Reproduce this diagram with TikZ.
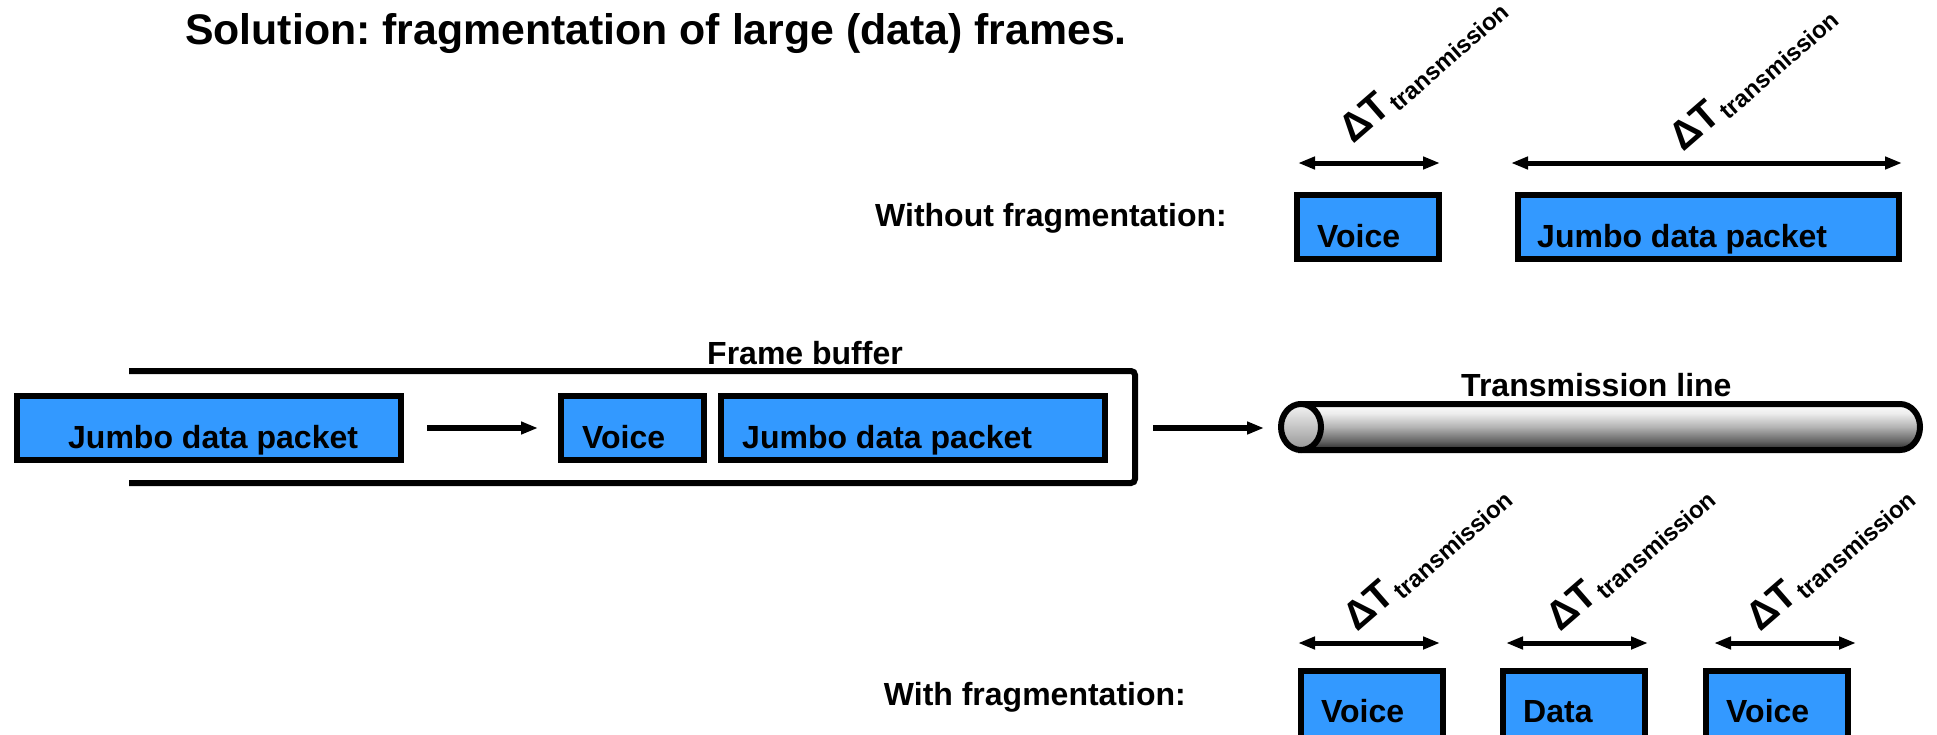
\documentclass[tikz,border=0pt]{standalone}
\usepackage{fontspec}
\setmainfont{Liberation Sans}
\usetikzlibrary{arrows.meta}
\frenchspacing
\definecolor{pktblue}{RGB}{51,153,255}
% vertical grey ramp for the body of the transmission line (path spans 25bp..75bp)
\pgfdeclareverticalshading{tube}{100bp}{color(0bp)=(black!85); color(25bp)=(black!85); color(35bp)=(black!60); color(50bp)=(black!30); color(65bp)=(black!7); color(75bp)=(white); color(100bp)=(white)}
\newcommand\dTrans{\fontsize{40}{40}\selectfont\bfseries ΔT\kern2pt\raisebox{-5pt}{\fontsize{24}{24}\selectfont transmission}}

\begin{document}
\begin{tikzpicture}[x=1pt,y=-1pt,
  every node/.style={font=\bfseries},
  pkt/.style={draw=black, fill=pktblue, line width=6pt, inner sep=0pt, minimum height=64pt},
  txt/.style={font=\bfseries\fontsize{32}{36}\selectfont, inner sep=0pt},
  pkttxt/.style={txt, anchor=base west},
  arr/.style={line width=5.5pt, -{Triangle[length=17pt,width=12pt]}},
  dimarr/.style={line width=5pt, {Triangle[length=17pt,width=12pt]}-{Triangle[length=17pt,width=12pt]}},
  dt/.style={inner sep=0pt, anchor=base west, rotate=41},
]
\useasboundingbox (0,0) rectangle (1937,734);
\clip (0,0) rectangle (1937,734);

% title
\node[inner sep=0pt, anchor=base west, font=\bfseries\fontsize{42.8}{46}\selectfont] (title) at (185,44)
  {Solution: fragmentation of large (data) frames.};

% ---------- without fragmentation ----------
\node[txt, anchor=base east] (wo) at (1227,226) {Without fragmentation:};
\node[pkt, minimum width=142pt] (tvoice) at (1368,227) {};
\node[pkt, minimum width=381pt] (tjumbo) at (1708.5,227) {};
\node[pkttxt] (tvoicet) at ([shift={(23pt,-55pt)}]tvoice.north west) {Voice};
\node[pkttxt] (tjumbot) at ([shift={(22pt,-55pt)}]tjumbo.north west) {Jumbo data packet};
\draw[dimarr] ([shift={(4pt,29pt)}]tvoice.north west) -- ([shift={(-2pt,29pt)}]tvoice.north east);
\draw[dimarr] ([shift={(-4pt,29pt)}]tjumbo.north west) -- ([shift={(0pt,29pt)}]tjumbo.north east);
\node[dt] (dt1) at (1353,145) {\dTrans};
\node[dt] (dt2) at (1683,153) {\dTrans};

% ---------- frame buffer ----------
\draw[line width=6pt, rounded corners=4pt] (129,371) -- (1135,371) -- (1135,483) -- (129,483);
\node[txt, anchor=base] (fbuf) at (805,364) {Frame buffer};
\coordinate (bufR) at (1138,428);

\node[pkt, minimum width=384pt] (ljumbo) at (209,428) {};
\node[pkt, minimum width=143pt] (bvoice) at (632.5,428) {};
\node[pkt, minimum width=384pt] (bjumbo) at (913,428) {};
\node[pkttxt] (ljumbot) at ([shift={(54pt,-55pt)}]ljumbo.north west) {Jumbo data packet};
\node[pkttxt] (bvoicet) at ([shift={(24pt,-55pt)}]bvoice.north west) {Voice};
\node[pkttxt] (bjumbot) at ([shift={(24pt,-55pt)}]bjumbo.north west) {Jumbo data packet};
\draw[arr, shorten <=23pt, shorten >=20pt] (ljumbo.east) -- (bvoice.west);

% ---------- transmission line ----------
\path[shading=tube, draw, line width=6pt]
  (1301,404) -- (1900,404)
  .. controls (1911.05,404) and (1920,414.3) .. (1920,427)
  .. controls (1920,439.7) and (1911.05,450) .. (1900,450)
  -- (1301,450) -- cycle;
\draw[line width=6pt, top color=black!4, bottom color=black!42] (1301,427) ellipse [x radius=20, y radius=23];
\coordinate (cylW) at (1278,428);
\node[txt, anchor=base west] (tline) at (1461,396) {Transmission line};
\draw[arr, shorten <=15pt, shorten >=14pt] (bufR) -- (cylW);

% ---------- with fragmentation ----------
\node[txt, anchor=base east] (wf) at (1186,705) {With fragmentation:};
\node[pkt, minimum width=142pt, minimum height=70pt] (fvoice1) at (1372,706) {};
\node[pkt, minimum width=142pt, minimum height=70pt] (fdata) at (1574,706) {};
\node[pkt, minimum width=142pt, minimum height=70pt] (fvoice2) at (1777,706) {};
\node[pkttxt] (fvoice1t) at ([shift={(23pt,-54pt)}]fvoice1.north west) {Voice};
\node[pkttxt] (fdatat) at ([shift={(23pt,-54pt)}]fdata.north west) {Data};
\node[pkttxt] (fvoice2t) at ([shift={(23pt,-54pt)}]fvoice2.north west) {Voice};
\draw[dimarr] ([shift={(0pt,25pt)}]fvoice1.north west) -- ([shift={(-6pt,25pt)}]fvoice1.north east);
\draw[dimarr] ([shift={(6pt,25pt)}]fdata.north west) -- ([shift={(0pt,25pt)}]fdata.north east);
\draw[dimarr] ([shift={(11pt,25pt)}]fvoice2.north west) -- ([shift={(5pt,25pt)}]fvoice2.north east);
\node[dt] (dt3) at (1357,633) {\dTrans};
\node[dt] (dt4) at (1560,633) {\dTrans};
\node[dt] (dt5) at (1760,633) {\dTrans};
\end{tikzpicture}
\end{document}
